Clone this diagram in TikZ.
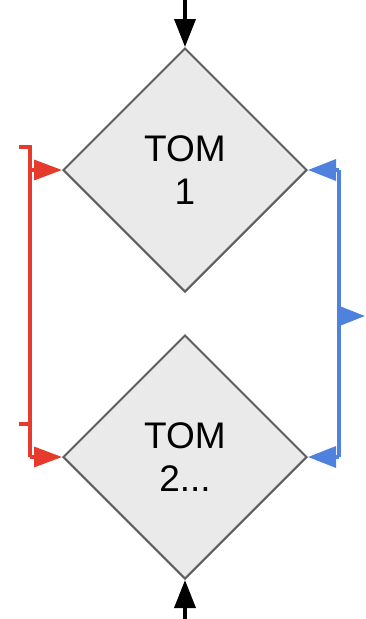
\documentclass[tikz,border=0pt]{standalone}
\usepackage{fontspec}
\setmainfont{Liberation Sans}
\usetikzlibrary{shapes.geometric,arrows.meta}
\definecolor{dfill}{HTML}{EAEAEA}
\definecolor{dborder}{HTML}{5E5E5E}
\definecolor{myred}{HTML}{E53A2C}
\definecolor{myblue}{HTML}{4F81DE}
\tikzset{
  decision/.style={diamond, aspect=1, minimum size=244pt, inner sep=0pt,
    fill=dfill, draw=dborder, line width=2pt, align=center,
    font=\fontsize{37}{43}\selectfont},
  redline/.style={draw=myred, line width=3.4pt},
  blueline/.style={draw=myblue, line width=3.4pt},
  redarrow/.style={redline, -{Triangle[length=28pt,width=20pt]}},
  bluearrow/.style={blueline, -{Triangle[length=28pt,width=21pt]}},
  blackarrow/.style={draw=black, line width=3.6pt, -{Triangle[length=28pt,width=21pt]}}
}
\begin{document}
\begin{tikzpicture}[x=1pt,y=-1pt]
\useasboundingbox (0,0) rectangle (365,619);
\node[decision] (d1) at (185,170) {TOM\\1};
\node[decision] (d2) at (185,457) {TOM\\2...};
% black in-arrows
\coordinate (topin) at (185,0);
\coordinate (botin) at (185,619);
\draw[blackarrow] (topin) -- (d1.north);
\draw[blackarrow] (botin) -- (d2.south);
% red loop
\coordinate (rs1) at (19,147);
\coordinate (rc1) at (30,147);
\coordinate (rs2) at (19,424);
\coordinate (rc2) at (30,424);
\coordinate (rb) at (30,457);
\draw[redline] (rs1) -- (rc1) -- (rb);
\draw[redline] (rs2) -- (rc2);
\draw[redarrow] (rc1) |- (d1.west);
\draw[redarrow] (rb) -- (d2.west);
% blue loop
\coordinate (bt) at (339,170);
\coordinate (bb) at (339,457);
\coordinate (bm) at (339,316);
\coordinate (bout) at (365,316);
\draw[blueline] (bt) -- (bb);
\draw[bluearrow] (bt) -- (d1.east);
\draw[bluearrow] (bb) -- (d2.east);
\draw[bluearrow] (bm) -- (bout);
\end{tikzpicture}
\end{document}
